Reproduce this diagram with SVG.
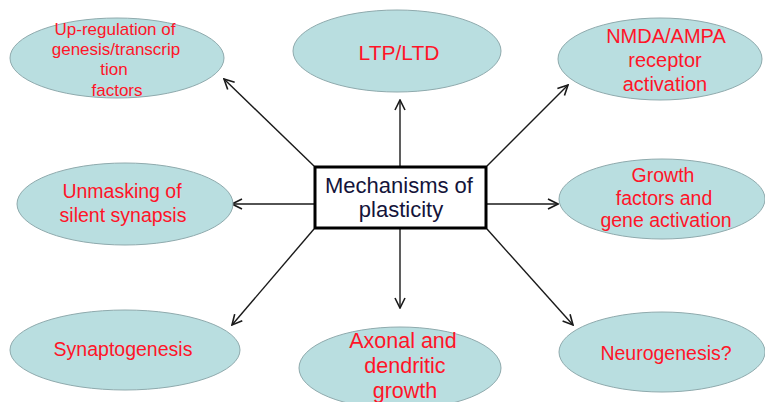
<svg xmlns="http://www.w3.org/2000/svg" width="765" height="402" viewBox="0 0 765 402">
  <style>
    .node ellipse { fill: #B9DEE0; stroke: #8FAAAD; stroke-width: 1; }
    .lbl { font-family: "Liberation Sans", Arial, sans-serif; fill: #FF1428; text-anchor: middle; }
    .center { font-family: "Liberation Sans", Arial, sans-serif; fill: #14143A; text-anchor: middle; font-size: 22px; }
    .conn line { stroke: #1a1a1a; stroke-width: 1.4; marker-end: url(#arr); }
  </style>
  <defs>
    <marker id="arr" viewBox="0 0 12 12" refX="11" refY="6" markerWidth="12" markerHeight="12" markerUnits="userSpaceOnUse" orient="auto">
      <path d="M1,1 L11,6 L1,11" fill="none" stroke="#1a1a1a" stroke-width="1.6"/>
    </marker>
  </defs>
  <rect width="765" height="402" fill="#ffffff"/>

  <g class="conn">
    <line x1="314" y1="166" x2="224" y2="79"/>
    <line x1="400" y1="166" x2="400" y2="100"/>
    <line x1="487" y1="166" x2="568" y2="85"/>
    <line x1="314" y1="204" x2="232" y2="204"/>
    <line x1="487" y1="204" x2="558" y2="204"/>
    <line x1="314" y1="229" x2="232" y2="325"/>
    <line x1="400" y1="229" x2="400" y2="308"/>
    <line x1="487" y1="229" x2="573" y2="325"/>
  </g>

  <g id="n-upregulation" class="node">
    <ellipse cx="117" cy="58" rx="107" ry="40"/>
    <text class="lbl" font-size="17" x="115" y="35">Up-regulation of</text>
    <text class="lbl" font-size="17" x="116" y="55">genesis/transcrip</text>
    <text class="lbl" font-size="17" x="114" y="75">tion</text>
    <text class="lbl" font-size="17" x="117" y="96">factors</text>
  </g>

  <g id="n-ltp" class="node">
    <ellipse cx="397" cy="51" rx="104" ry="41"/>
    <text class="lbl" font-size="21" x="399" y="60">LTP/LTD</text>
  </g>

  <g id="n-nmda" class="node">
    <ellipse cx="660" cy="59" rx="102" ry="41"/>
    <text class="lbl" font-size="20" x="666" y="43">NMDA/AMPA</text>
    <text class="lbl" font-size="20" x="665" y="67">receptor</text>
    <text class="lbl" font-size="20" x="665" y="91">activation</text>
  </g>

  <g id="n-unmasking" class="node">
    <ellipse cx="125" cy="204" rx="108" ry="41"/>
    <text class="lbl" font-size="19.5" x="122" y="198">Unmasking of</text>
    <text class="lbl" font-size="19.5" x="123" y="222">silent synapsis</text>
  </g>

  <g id="n-center">
    <rect x="315" y="167" width="171" height="61" fill="#ffffff" stroke="#000000" stroke-width="3"/>
    <text class="center" x="399" y="193">Mechanisms of</text>
    <text class="center" x="401" y="217">plasticity</text>
  </g>

  <g id="n-growth" class="node">
    <ellipse cx="662" cy="199" rx="103" ry="40"/>
    <text class="lbl" font-size="19.5" x="663" y="182">Growth</text>
    <text class="lbl" font-size="19.5" x="664" y="205">factors and</text>
    <text class="lbl" font-size="19.5" x="666" y="227">gene activation</text>
  </g>

  <g id="n-synaptogenesis" class="node">
    <ellipse cx="125" cy="350" rx="115" ry="40"/>
    <text class="lbl" font-size="19.5" x="123" y="356">Synaptogenesis</text>
  </g>

  <g id="n-axonal" class="node">
    <ellipse cx="400" cy="368" rx="101" ry="41"/>
    <text class="lbl" font-size="21.5" x="403" y="348">Axonal and</text>
    <text class="lbl" font-size="21.5" x="405" y="373">dendritic</text>
    <text class="lbl" font-size="21.5" x="405" y="398">growth</text>
  </g>

  <g id="n-neurogenesis" class="node">
    <ellipse cx="662" cy="352" rx="103" ry="40"/>
    <text class="lbl" font-size="19.5" x="666" y="360">Neurogenesis?</text>
  </g>
</svg>
